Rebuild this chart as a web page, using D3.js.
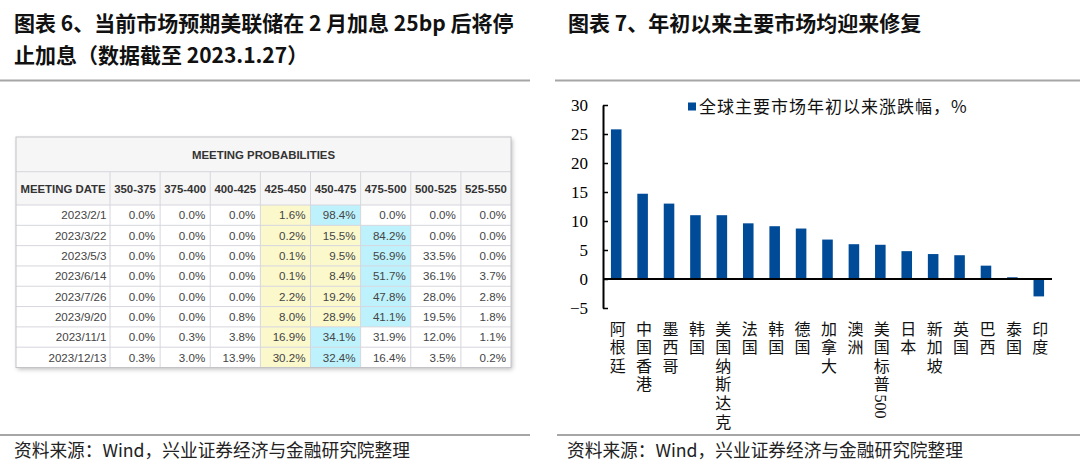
<!DOCTYPE html>
<html>
<head>
<meta charset="utf-8">
<script src="https://cdn.jsdelivr.net/npm/d3@7/dist/d3.min.js"></script>
<style>
  html, body { margin: 0; padding: 0; background: #fff; }
  svg { display: block; }
</style>
</head>
<body>
<div id="chart"></div>
<script>
// ---- data: left table (CME meeting probabilities, %) ----
const meetingDates = ["2023/2/1", "2023/3/22", "2023/5/3", "2023/6/14", "2023/7/26", "2023/9/20", "2023/11/1", "2023/12/13"];
const rateRanges = ["350-375", "375-400", "400-425", "425-450", "450-475", "475-500", "500-525", "525-550"];
const probabilities = [
  [0.0, 0.0, 0.0, 1.6, 98.4, 0.0, 0.0, 0.0],
  [0.0, 0.0, 0.0, 0.2, 15.5, 84.2, 0.0, 0.0],
  [0.0, 0.0, 0.0, 0.1, 9.5, 56.9, 33.5, 0.0],
  [0.0, 0.0, 0.0, 0.1, 8.4, 51.7, 36.1, 3.7],
  [0.0, 0.0, 0.0, 2.2, 19.2, 47.8, 28.0, 2.8],
  [0.0, 0.0, 0.8, 8.0, 28.9, 41.1, 19.5, 1.8],
  [0.0, 0.3, 3.8, 16.9, 34.1, 31.9, 12.0, 1.1],
  [0.3, 3.0, 13.9, 30.2, 32.4, 16.4, 3.5, 0.2]
];
const currentRange = "425-450";

// ---- data: right bar chart (YTD change, %) ----
const markets = ["阿根廷", "中国香港", "墨西哥", "韩国", "美国纳斯达克", "法国", "韩国", "德国", "加拿大", "澳洲", "美国标普500", "日本", "新加坡", "英国", "巴西", "泰国", "印度"];
const ytdChange = [25.8, 14.7, 13.0, 11.0, 11.0, 9.6, 9.1, 8.7, 6.8, 6.0, 5.9, 4.8, 4.3, 4.1, 2.3, 0.3, -3.0];
const yTicks = [-5, 0, 5, 10, 15, 20, 25, 30];

const W = 1080, H = 470;
const cjk = "'Noto Sans CJK SC', 'Liberation Sans', sans-serif";
const sans = "'Liberation Sans', Arial, sans-serif";
const serif = "'Liberation Serif', 'Times New Roman', serif";

const svg = d3.select("#chart").append("svg")
  .attr("width", W).attr("height", H)
  .style("background", "#fff");

// ---- titles, rules, footers ----
const titles = [
  {x: 14, y: 30.5, t: "图表 6、当前市场预期美联储在 2 月加息 25bp 后将停"},
  {x: 14, y: 62.5, t: "止加息（数据截至 2023.1.27）"},
  {x: 568, y: 30.5, t: "图表 7、年初以来主要市场均迎来修复"}
];
svg.selectAll("text.title").data(titles).enter().append("text")
  .attr("class", "title")
  .attr("x", d => d.x).attr("y", d => d.y)
  .style("font-family", cjk).style("font-size", "21px").style("font-weight", 700)
  .attr("fill", "#111")
  .text(d => d.t);

const rules = [[0, 530, 80.5], [555, 1080, 80.5], [0, 530, 435], [557, 1080, 435]];
svg.selectAll("line.rule").data(rules).enter().append("line")
  .attr("x1", d => d[0]).attr("x2", d => d[1])
  .attr("y1", d => d[2]).attr("y2", d => d[2])
  .attr("stroke", "#a6a6a6").attr("stroke-width", 2);

svg.selectAll("text.foot").data([14, 567]).enter().append("text")
  .attr("x", d => d).attr("y", 457)
  .style("font-family", cjk).style("font-size", "17.7px")
  .attr("fill", "#222")
  .text("资料来源：Wind，兴业证券经济与金融研究院整理");

// ---- left: table ----
const tbl = {x0: 16, x1: 511, y0: 137, yHead: 171.7, yData: 205, y1: 367.5, firstW: 94};

const defs = svg.append("defs");
defs.append("filter").attr("id", "shadow")
  .attr("x", "-5%").attr("y", "-5%").attr("width", "110%").attr("height", "115%")
  .append("feDropShadow")
  .attr("dx", 1.5).attr("dy", 2).attr("stdDeviation", 2)
  .attr("flood-color", "#000").attr("flood-opacity", 0.25);

const tg = svg.append("g");
tg.append("rect")
  .attr("x", tbl.x0).attr("y", tbl.y0)
  .attr("width", tbl.x1 - tbl.x0).attr("height", tbl.y1 - tbl.y0)
  .attr("fill", "#fff").attr("filter", "url(#shadow)");
tg.append("rect")
  .attr("x", tbl.x0).attr("y", tbl.y0)
  .attr("width", tbl.x1 - tbl.x0).attr("height", tbl.yData - tbl.y0)
  .attr("fill", "#f6f6f6");

const colX = d3.scaleBand().domain(rateRanges).range([tbl.x0 + tbl.firstW, tbl.x1]);
const rowY = d3.scaleBand().domain(meetingDates).range([tbl.yData, tbl.y1]);

// cell highlights: cyan = most likely range, yellow = current target up to it
const cells = [];
probabilities.forEach((row, i) => {
  const maxIdx = d3.maxIndex(row);
  const cur = rateRanges.indexOf(currentRange);
  row.forEach((v, j) => {
    let fill = null;
    if (j === maxIdx) fill = "#bdf2fd";
    else if (j >= cur && j < maxIdx) fill = "#fbf8cc";
    cells.push({date: meetingDates[i], range: rateRanges[j], v, fill});
  });
});

tg.selectAll("rect.cell").data(cells.filter(d => d.fill)).enter().append("rect")
  .attr("x", d => colX(d.range)).attr("y", d => rowY(d.date))
  .attr("width", colX.bandwidth()).attr("height", rowY.bandwidth())
  .attr("fill", d => d.fill);

// grid lines
const gridColor = "#d6d6de";
tg.selectAll("line.h").data([tbl.yHead, ...meetingDates.map(d => rowY(d))]).enter().append("line")
  .attr("x1", tbl.x0).attr("x2", tbl.x1)
  .attr("y1", d => d).attr("y2", d => d)
  .attr("stroke", gridColor).attr("stroke-width", 1);
tg.selectAll("line.v").data(rateRanges.map(r => colX(r))).enter().append("line")
  .attr("x1", d => d).attr("x2", d => d)
  .attr("y1", tbl.yHead).attr("y2", tbl.y1)
  .attr("stroke", gridColor).attr("stroke-width", 1);
tg.append("rect")
  .attr("x", tbl.x0).attr("y", tbl.y0)
  .attr("width", tbl.x1 - tbl.x0).attr("height", tbl.y1 - tbl.y0)
  .attr("fill", "none").attr("stroke", "#c4c4c8").attr("stroke-width", 1);

// header texts
tg.append("text")
  .attr("x", (tbl.x0 + tbl.x1) / 2).attr("y", (tbl.y0 + tbl.yHead) / 2 + 4.2)
  .attr("text-anchor", "middle")
  .style("font-family", sans).style("font-size", "11.4px").style("font-weight", 700)
  .attr("fill", "#333")
  .text("MEETING PROBABILITIES");
tg.append("text")
  .attr("x", tbl.x0 + tbl.firstW / 2).attr("y", (tbl.yHead + tbl.yData) / 2 + 4.2)
  .attr("text-anchor", "middle")
  .style("font-family", sans).style("font-size", "11.4px").style("font-weight", 700)
  .attr("fill", "#333")
  .text("MEETING DATE");
tg.selectAll("text.colh").data(rateRanges).enter().append("text")
  .attr("x", d => colX(d) + colX.bandwidth() / 2).attr("y", (tbl.yHead + tbl.yData) / 2 + 4.2)
  .attr("text-anchor", "middle")
  .style("font-family", sans).style("font-size", "11.4px").style("font-weight", 700)
  .attr("fill", "#333")
  .text(d => d);

// body texts
tg.selectAll("text.date").data(meetingDates).enter().append("text")
  .attr("x", tbl.x0 + tbl.firstW - 3.5).attr("y", d => rowY(d) + rowY.bandwidth() / 2 + 4.2)
  .attr("text-anchor", "end")
  .style("font-family", sans).style("font-size", "11.6px")
  .attr("fill", "#444")
  .text(d => d);
tg.selectAll("text.val").data(cells).enter().append("text")
  .attr("x", d => colX(d.range) + colX.bandwidth() - 5).attr("y", d => rowY(d.date) + rowY.bandwidth() / 2 + 4.2)
  .attr("text-anchor", "end")
  .style("font-family", sans).style("font-size", "11.6px")
  .attr("fill", "#444")
  .text(d => d.v.toFixed(1) + "%");

// ---- right: bar chart ----
const barColor = "#004b97";
const x = d3.scaleBand().domain(d3.range(markets.length)).range([603, 1052])
  .paddingInner(0.6).paddingOuter(0.3);
const y = d3.scaleLinear().domain([-5, 30]).range([308, 105]);

const cg = svg.append("g");
cg.selectAll("rect.bar").data(ytdChange).enter().append("rect")
  .attr("x", (d, i) => x(i))
  .attr("y", d => y(Math.max(0, d)))
  .attr("width", x.bandwidth())
  .attr("height", d => Math.abs(y(d) - y(0)))
  .attr("fill", barColor);

const yAxis = cg.append("g")
  .attr("transform", "translate(603,0)")
  .call(d3.axisLeft(y).tickValues(yTicks).tickSizeInner(-5).tickSizeOuter(0).tickPadding(15));
yAxis.select(".domain").attr("stroke", "#000").attr("stroke-width", 2);
yAxis.selectAll(".tick line").attr("stroke", "#000").attr("stroke-width", 1.5);
yAxis.selectAll(".tick text")
  .style("font-family", serif).style("font-size", "17px").attr("fill", "#000");

cg.append("line")
  .attr("x1", 603).attr("x2", 1052)
  .attr("y1", y(0)).attr("y2", y(0))
  .attr("stroke", "#000").attr("stroke-width", 2);

// vertical category labels (one text per label, stacked top-to-bottom)
cg.selectAll("text.cat").data(markets).enter().append("text")
  .attr("class", "cat")
  .attr("x", (d, i) => x(i) + x.bandwidth() / 2)
  .attr("y", 320.5)
  .style("writing-mode", "vertical-rl")
  .style("text-orientation", "mixed")
  .style("font-family", "'Liberation Serif', 'Noto Sans CJK SC', serif")
  .style("font-size", "16px")
  .attr("fill", "#111")
  .each(function(d) {
    const t = d3.select(this);
    (d.match(/\d+|[^\d]+/g) || []).forEach(tok => {
      t.append("tspan")
        .style("letter-spacing", /^\d/.test(tok) ? "0px" : "2.6px")
        .text(tok);
    });
  });

// legend
cg.append("rect").attr("x", 688).attr("y", 102.5).attr("width", 8).attr("height", 8).attr("fill", barColor);
cg.append("text")
  .attr("x", 699).attr("y", 112.5)
  .style("font-family", cjk).style("font-size", "17px").style("letter-spacing", "1px")
  .attr("fill", "#111")
  .text("全球主要市场年初以来涨跌幅，%");
</script>
</body>
</html>
